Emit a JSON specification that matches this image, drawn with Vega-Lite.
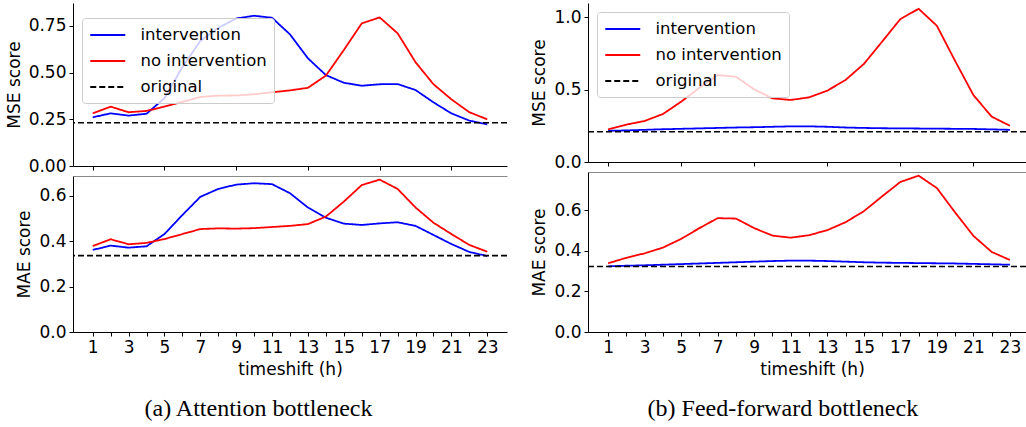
{
  "$schema": "https://vega.github.io/schema/vega-lite/v6.json",
  "padding": {"left": 5, "top": 3, "right": 0, "bottom": 0},
  "background": "white",
  "datasets": {
    "lines": [
      {"p":"a","m":"MSE","t":1,"int":0.261,"noint":0.282},
      {"p":"a","m":"MSE","t":2,"int":0.282,"noint":0.318},
      {"p":"a","m":"MSE","t":3,"int":0.270,"noint":0.288},
      {"p":"a","m":"MSE","t":4,"int":0.280,"noint":0.295},
      {"p":"a","m":"MSE","t":5,"int":0.363,"noint":0.318},
      {"p":"a","m":"MSE","t":6,"int":0.530,"noint":0.343},
      {"p":"a","m":"MSE","t":7,"int":0.670,"noint":0.370},
      {"p":"a","m":"MSE","t":8,"int":0.740,"noint":0.377},
      {"p":"a","m":"MSE","t":9,"int":0.790,"noint":0.378},
      {"p":"a","m":"MSE","t":10,"int":0.805,"noint":0.384},
      {"p":"a","m":"MSE","t":11,"int":0.794,"noint":0.395},
      {"p":"a","m":"MSE","t":12,"int":0.705,"noint":0.405},
      {"p":"a","m":"MSE","t":13,"int":0.577,"noint":0.419},
      {"p":"a","m":"MSE","t":14,"int":0.487,"noint":0.484},
      {"p":"a","m":"MSE","t":15,"int":0.446,"noint":0.621},
      {"p":"a","m":"MSE","t":16,"int":0.430,"noint":0.764},
      {"p":"a","m":"MSE","t":17,"int":0.438,"noint":0.796},
      {"p":"a","m":"MSE","t":18,"int":0.439,"noint":0.711},
      {"p":"a","m":"MSE","t":19,"int":0.407,"noint":0.556},
      {"p":"a","m":"MSE","t":20,"int":0.341,"noint":0.438},
      {"p":"a","m":"MSE","t":21,"int":0.282,"noint":0.357},
      {"p":"a","m":"MSE","t":22,"int":0.243,"noint":0.288},
      {"p":"a","m":"MSE","t":23,"int":0.223,"noint":0.250},
      {"p":"a","m":"MAE","t":1,"int":0.362,"noint":0.379},
      {"p":"a","m":"MAE","t":2,"int":0.381,"noint":0.409},
      {"p":"a","m":"MAE","t":3,"int":0.372,"noint":0.387},
      {"p":"a","m":"MAE","t":4,"int":0.378,"noint":0.393},
      {"p":"a","m":"MAE","t":5,"int":0.432,"noint":0.410},
      {"p":"a","m":"MAE","t":6,"int":0.516,"noint":0.432},
      {"p":"a","m":"MAE","t":7,"int":0.596,"noint":0.454},
      {"p":"a","m":"MAE","t":8,"int":0.631,"noint":0.457},
      {"p":"a","m":"MAE","t":9,"int":0.650,"noint":0.456},
      {"p":"a","m":"MAE","t":10,"int":0.656,"noint":0.458},
      {"p":"a","m":"MAE","t":11,"int":0.652,"noint":0.463},
      {"p":"a","m":"MAE","t":12,"int":0.612,"noint":0.468},
      {"p":"a","m":"MAE","t":13,"int":0.549,"noint":0.476},
      {"p":"a","m":"MAE","t":14,"int":0.504,"noint":0.509},
      {"p":"a","m":"MAE","t":15,"int":0.478,"noint":0.575},
      {"p":"a","m":"MAE","t":16,"int":0.472,"noint":0.648},
      {"p":"a","m":"MAE","t":17,"int":0.479,"noint":0.672},
      {"p":"a","m":"MAE","t":18,"int":0.484,"noint":0.631},
      {"p":"a","m":"MAE","t":19,"int":0.468,"noint":0.549},
      {"p":"a","m":"MAE","t":20,"int":0.428,"noint":0.482},
      {"p":"a","m":"MAE","t":21,"int":0.388,"noint":0.432},
      {"p":"a","m":"MAE","t":22,"int":0.353,"noint":0.384},
      {"p":"a","m":"MAE","t":23,"int":0.335,"noint":0.354},
      {"p":"b","m":"MSE","t":1,"int":0.215,"noint":0.225},
      {"p":"b","m":"MSE","t":2,"int":0.218,"noint":0.258},
      {"p":"b","m":"MSE","t":3,"int":0.222,"noint":0.283},
      {"p":"b","m":"MSE","t":4,"int":0.226,"noint":0.331},
      {"p":"b","m":"MSE","t":5,"int":0.229,"noint":0.416},
      {"p":"b","m":"MSE","t":6,"int":0.232,"noint":0.512},
      {"p":"b","m":"MSE","t":7,"int":0.235,"noint":0.600},
      {"p":"b","m":"MSE","t":8,"int":0.238,"noint":0.588},
      {"p":"b","m":"MSE","t":9,"int":0.240,"noint":0.501},
      {"p":"b","m":"MSE","t":10,"int":0.243,"noint":0.439},
      {"p":"b","m":"MSE","t":11,"int":0.246,"noint":0.428},
      {"p":"b","m":"MSE","t":12,"int":0.246,"noint":0.446},
      {"p":"b","m":"MSE","t":13,"int":0.243,"noint":0.492},
      {"p":"b","m":"MSE","t":14,"int":0.238,"noint":0.566},
      {"p":"b","m":"MSE","t":15,"int":0.235,"noint":0.676},
      {"p":"b","m":"MSE","t":16,"int":0.233,"noint":0.830},
      {"p":"b","m":"MSE","t":17,"int":0.232,"noint":0.986},
      {"p":"b","m":"MSE","t":18,"int":0.231,"noint":1.057},
      {"p":"b","m":"MSE","t":19,"int":0.230,"noint":0.940},
      {"p":"b","m":"MSE","t":20,"int":0.229,"noint":0.697},
      {"p":"b","m":"MSE","t":21,"int":0.228,"noint":0.462},
      {"p":"b","m":"MSE","t":22,"int":0.225,"noint":0.313},
      {"p":"b","m":"MSE","t":23,"int":0.222,"noint":0.250},
      {"p":"b","m":"MAE","t":1,"int":0.323,"noint":0.338},
      {"p":"b","m":"MAE","t":2,"int":0.326,"noint":0.365},
      {"p":"b","m":"MAE","t":3,"int":0.328,"noint":0.387},
      {"p":"b","m":"MAE","t":4,"int":0.331,"noint":0.415},
      {"p":"b","m":"MAE","t":5,"int":0.334,"noint":0.458},
      {"p":"b","m":"MAE","t":6,"int":0.337,"noint":0.511},
      {"p":"b","m":"MAE","t":7,"int":0.340,"noint":0.560},
      {"p":"b","m":"MAE","t":8,"int":0.343,"noint":0.558},
      {"p":"b","m":"MAE","t":9,"int":0.346,"noint":0.511},
      {"p":"b","m":"MAE","t":10,"int":0.349,"noint":0.474},
      {"p":"b","m":"MAE","t":11,"int":0.351,"noint":0.464},
      {"p":"b","m":"MAE","t":12,"int":0.351,"noint":0.476},
      {"p":"b","m":"MAE","t":13,"int":0.349,"noint":0.501},
      {"p":"b","m":"MAE","t":14,"int":0.346,"noint":0.540},
      {"p":"b","m":"MAE","t":15,"int":0.343,"noint":0.594},
      {"p":"b","m":"MAE","t":16,"int":0.341,"noint":0.667},
      {"p":"b","m":"MAE","t":17,"int":0.340,"noint":0.738},
      {"p":"b","m":"MAE","t":18,"int":0.339,"noint":0.769},
      {"p":"b","m":"MAE","t":19,"int":0.338,"noint":0.708},
      {"p":"b","m":"MAE","t":20,"int":0.337,"noint":0.588},
      {"p":"b","m":"MAE","t":21,"int":0.335,"noint":0.473},
      {"p":"b","m":"MAE","t":22,"int":0.333,"noint":0.394},
      {"p":"b","m":"MAE","t":23,"int":0.331,"noint":0.354}
    ],
    "orig": [
      {"p":"a","m":"MSE","v":0.232},
      {"p":"a","m":"MAE","v":0.337},
      {"p":"b","m":"MSE","v":0.209},
      {"p":"b","m":"MAE","v":0.322}
    ]
  },
  "spacing": 22,
  "resolve": {"scale": {"color": "independent", "strokeDash": "independent"}, "legend": {"color": "independent", "strokeDash": "independent"}},
  "hconcat": [
    {
      "title": {"text": "(a) Attention bottleneck", "orient": "bottom", "anchor": "middle", "font": "Liberation Serif", "fontSize": 24, "fontWeight": "normal", "color": "#000", "offset": 20, "dx": 2},
      "spacing": 2,
      "resolve": {"scale": {"color": "independent", "strokeDash": "independent"}, "legend": {"color": "independent", "strokeDash": "independent"}},
      "vconcat": [
        {
          "width": 434, "height": 163,
          "layer": [
            {
              "data": {"name": "lines"},
              "transform": [{"filter": "datum.p == 'a' && datum.m == 'MSE'"}],
              "mark": {"type": "line", "strokeWidth": 1.8},
              "encoding": {
                "x": {"field": "t", "type": "quantitative", "scale": {"domain": [-0.1, 24.1], "nice": false, "zero": false}, "axis": {"values": [1,2,3,4,5,6,7,8,9,10,11,12,13,14,15,16,17,18,19,20,21,22,23], "labels": false, "title": null}},
                "y": {"field": "int", "type": "quantitative", "scale": {"domain": [0, 0.8732], "nice": false}, "axis": {"values": [0, 0.25, 0.5, 0.75], "format": ".2f", "title": "MSE score"}},
                "color": {"datum": "intervention", "type": "nominal", "scale": {"domain": ["intervention", "no intervention", "original"], "range": ["#0000ff", "#ff0000", "#000000"]}, "legend": {"title": null, "orient": "none", "legendX": 9, "legendY": 15}},
                "strokeDash": {"datum": "intervention", "type": "nominal", "scale": {"domain": ["intervention", "no intervention", "original"], "range": [[1, 0], [1, 0], [6, 3]]}, "legend": {"title": null, "orient": "none", "legendX": 9, "legendY": 15}}
              }
            },
            {
              "data": {"name": "lines"},
              "transform": [{"filter": "datum.p == 'a' && datum.m == 'MSE'"}],
              "mark": {"type": "line", "strokeWidth": 1.8},
              "encoding": {
                "x": {"field": "t", "type": "quantitative"},
                "y": {"field": "noint", "type": "quantitative", "title": "MSE score"},
                "color": {"datum": "no intervention", "type": "nominal"},
                "strokeDash": {"datum": "no intervention", "type": "nominal"}
              }
            },
            {
              "data": {"name": "orig"},
              "transform": [{"filter": "datum.p == 'a' && datum.m == 'MSE'"}],
              "mark": {"type": "rule", "strokeWidth": 1.6},
              "encoding": {
                "y": {"field": "v", "type": "quantitative", "title": "MSE score"},
                "color": {"datum": "original", "type": "nominal"},
                "strokeDash": {"datum": "original", "type": "nominal"}
              }
            }
          ]
        },
        {
          "width": 434, "height": 156,
          "resolve": {"scale": {"x": "independent"}},
          "layer": [
            {
              "data": {"name": "lines"},
              "transform": [{"filter": "datum.p == 'a' && datum.m == 'MAE'"}],
              "mark": {"type": "line", "strokeWidth": 1.8},
              "encoding": {
                "x": {"field": "t", "type": "quantitative", "scale": {"domain": [-0.1, 24.1], "nice": false, "zero": false}, "axis": {"values": [1,2,3,4,5,6,7,8,9,10,11,12,13,14,15,16,17,18,19,20,21,22,23], "labelExpr": "datum.value % 2 == 1 ? datum.label : ''", "labelOverlap": false, "title": "timeshift (h)", "titlePadding": 6}},
                "y": {"field": "int", "type": "quantitative", "scale": {"domain": [0, 0.688], "nice": false}, "axis": {"values": [0, 0.2, 0.4, 0.6], "format": ".1f", "title": "MAE score"}},
                "color": {"datum": "intervention", "type": "nominal", "scale": {"domain": ["intervention", "no intervention", "original"], "range": ["#0000ff", "#ff0000", "#000000"]}, "legend": null},
                "strokeDash": {"datum": "intervention", "type": "nominal", "scale": {"domain": ["intervention", "no intervention", "original"], "range": [[1, 0], [1, 0], [6, 3]]}, "legend": null}
              }
            },
            {
              "data": {"name": "lines"},
              "transform": [{"filter": "datum.p == 'a' && datum.m == 'MAE'"}],
              "mark": {"type": "line", "strokeWidth": 1.8},
              "encoding": {
                "x": {"field": "t", "type": "quantitative", "scale": {"domain": [-0.1, 24.1], "nice": false, "zero": false}, "axis": {"orient": "top", "ticks": false, "labels": false, "title": null, "domainColor": "#8a8a8a"}},
                "y": {"field": "noint", "type": "quantitative", "title": "MAE score"},
                "color": {"datum": "no intervention", "type": "nominal", "legend": null},
                "strokeDash": {"datum": "no intervention", "type": "nominal", "legend": null}
              }
            },
            {
              "data": {"name": "orig"},
              "transform": [{"filter": "datum.p == 'a' && datum.m == 'MAE'"}],
              "mark": {"type": "rule", "strokeWidth": 1.6},
              "encoding": {
                "y": {"field": "v", "type": "quantitative", "title": "MAE score"},
                "color": {"datum": "original", "type": "nominal", "legend": null},
                "strokeDash": {"datum": "original", "type": "nominal", "legend": null}
              }
            }
          ]
        }
      ]
    },
    {
      "title": {"text": "(b) Feed-forward bottleneck", "orient": "bottom", "anchor": "middle", "font": "Liberation Serif", "fontSize": 24, "fontWeight": "normal", "color": "#000", "offset": 20, "dx": 4},
      "spacing": 2,
      "resolve": {"scale": {"color": "independent", "strokeDash": "independent"}, "legend": {"color": "independent", "strokeDash": "independent"}},
      "vconcat": [
        {
          "width": 438, "height": 159,
          "layer": [
            {
              "data": {"name": "lines"},
              "transform": [{"filter": "datum.p == 'b' && datum.m == 'MSE'"}],
              "mark": {"type": "line", "strokeWidth": 1.8},
              "encoding": {
                "x": {"field": "t", "type": "quantitative", "scale": {"domain": [-0.1, 23.88], "nice": false, "zero": false}, "axis": {"values": [1,2,3,4,5,6,7,8,9,10,11,12,13,14,15,16,17,18,19,20,21,22,23], "labels": false, "title": null}},
                "y": {"field": "int", "type": "quantitative", "scale": {"domain": [0, 1.097], "nice": false}, "axis": {"values": [0, 0.5, 1.0], "format": ".1f", "title": "MSE score"}},
                "color": {"datum": "intervention", "type": "nominal", "scale": {"domain": ["intervention", "no intervention", "original"], "range": ["#0000ff", "#ff0000", "#000000"]}, "legend": {"title": null, "orient": "none", "legendX": 9, "legendY": 9}},
                "strokeDash": {"datum": "intervention", "type": "nominal", "scale": {"domain": ["intervention", "no intervention", "original"], "range": [[1, 0], [1, 0], [6, 3]]}, "legend": {"title": null, "orient": "none", "legendX": 9, "legendY": 9}}
              }
            },
            {
              "data": {"name": "lines"},
              "transform": [{"filter": "datum.p == 'b' && datum.m == 'MSE'"}],
              "mark": {"type": "line", "strokeWidth": 1.8},
              "encoding": {
                "x": {"field": "t", "type": "quantitative"},
                "y": {"field": "noint", "type": "quantitative", "title": "MSE score"},
                "color": {"datum": "no intervention", "type": "nominal"},
                "strokeDash": {"datum": "no intervention", "type": "nominal"}
              }
            },
            {
              "data": {"name": "orig"},
              "transform": [{"filter": "datum.p == 'b' && datum.m == 'MSE'"}],
              "mark": {"type": "rule", "strokeWidth": 1.6},
              "encoding": {
                "y": {"field": "v", "type": "quantitative", "title": "MSE score"},
                "color": {"datum": "original", "type": "nominal"},
                "strokeDash": {"datum": "original", "type": "nominal"}
              }
            }
          ]
        },
        {
          "width": 438, "height": 160,
          "resolve": {"scale": {"x": "independent"}},
          "layer": [
            {
              "data": {"name": "lines"},
              "transform": [{"filter": "datum.p == 'b' && datum.m == 'MAE'"}],
              "mark": {"type": "line", "strokeWidth": 1.8},
              "encoding": {
                "x": {"field": "t", "type": "quantitative", "scale": {"domain": [-0.1, 23.88], "nice": false, "zero": false}, "axis": {"values": [1,2,3,4,5,6,7,8,9,10,11,12,13,14,15,16,17,18,19,20,21,22,23], "labelExpr": "datum.value % 2 == 1 ? datum.label : ''", "labelOverlap": false, "title": "timeshift (h)", "titlePadding": 6, "titleX": 224}},
                "y": {"field": "int", "type": "quantitative", "scale": {"domain": [0, 0.787], "nice": false}, "axis": {"values": [0, 0.2, 0.4, 0.6], "format": ".1f", "title": "MAE score"}},
                "color": {"datum": "intervention", "type": "nominal", "scale": {"domain": ["intervention", "no intervention", "original"], "range": ["#0000ff", "#ff0000", "#000000"]}, "legend": null},
                "strokeDash": {"datum": "intervention", "type": "nominal", "scale": {"domain": ["intervention", "no intervention", "original"], "range": [[1, 0], [1, 0], [6, 3]]}, "legend": null}
              }
            },
            {
              "data": {"name": "lines"},
              "transform": [{"filter": "datum.p == 'b' && datum.m == 'MAE'"}],
              "mark": {"type": "line", "strokeWidth": 1.8},
              "encoding": {
                "x": {"field": "t", "type": "quantitative", "scale": {"domain": [-0.1, 23.88], "nice": false, "zero": false}, "axis": {"orient": "top", "ticks": false, "labels": false, "title": null, "domainColor": "#8a8a8a"}},
                "y": {"field": "noint", "type": "quantitative", "title": "MAE score"},
                "color": {"datum": "no intervention", "type": "nominal", "legend": null},
                "strokeDash": {"datum": "no intervention", "type": "nominal", "legend": null}
              }
            },
            {
              "data": {"name": "orig"},
              "transform": [{"filter": "datum.p == 'b' && datum.m == 'MAE'"}],
              "mark": {"type": "rule", "strokeWidth": 1.6},
              "encoding": {
                "y": {"field": "v", "type": "quantitative", "title": "MAE score"},
                "color": {"datum": "original", "type": "nominal", "legend": null},
                "strokeDash": {"datum": "original", "type": "nominal", "legend": null}
              }
            }
          ]
        }
      ]
    }
  ],
  "config": {
    "font": "DejaVu Sans",
    "view": {"stroke": null},
    "axis": {
      "grid": false,
      "domainColor": "#000000",
      "domainWidth": 1,
      "tickColor": "#000000",
      "tickWidth": 1,
      "tickSize": 4,
      "labelColor": "#000000",
      "labelFont": "DejaVu Sans",
      "labelFontSize": 17,
      "labelPadding": 3,
      "titleColor": "#000000",
      "titleFont": "DejaVu Sans",
      "titleFontSize": 17,
      "titleFontWeight": "normal",
      "titlePadding": 5
    },
    "legend": {
      "fillColor": "rgba(255,255,255,0.8)",
      "strokeColor": "#cccccc",
      "cornerRadius": 3,
      "padding": 7,
      "labelFont": "DejaVu Sans",
      "labelFontSize": 16.5,
      "labelColor": "#000000",
      "symbolType": "M-1,0H3",
      "symbolSize": 306.25,
      "symbolStrokeWidth": 1.8,
      "labelOffset": 31.5,
      "rowPadding": 7
    }
  }
}
